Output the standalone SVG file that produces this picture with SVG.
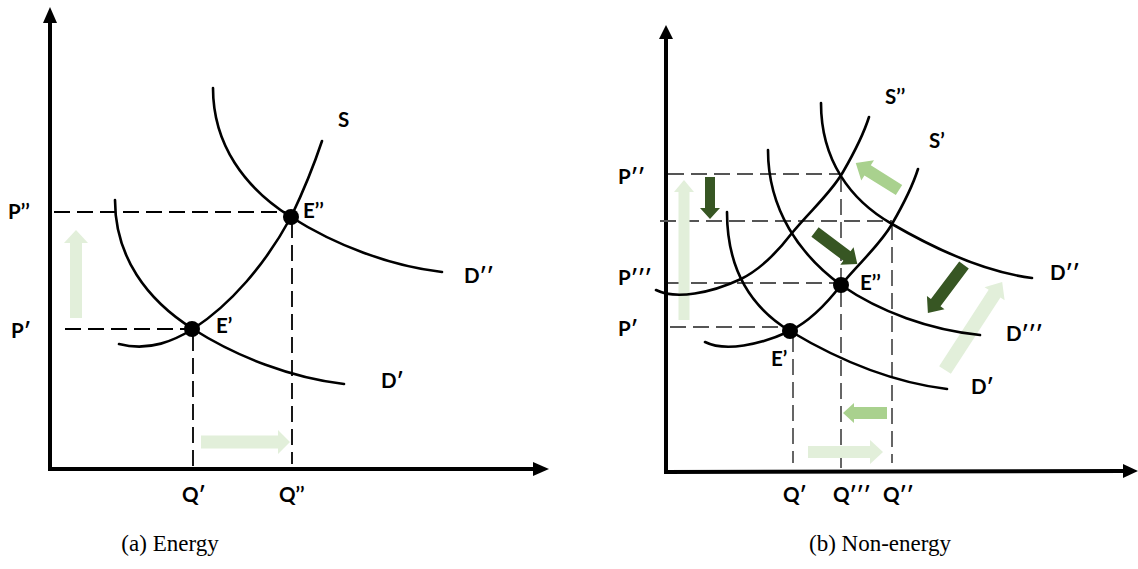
<svg xmlns="http://www.w3.org/2000/svg" width="1138" height="569" viewBox="0 0 1138 569">
<style>
.ax{stroke:#000;stroke-width:4;fill:none}
.cv{stroke:#000;stroke-width:2.6;fill:none;stroke-linecap:round}
.dl{stroke:#000;stroke-width:1.8;fill:none;stroke-dasharray:16 7}
.dr{stroke:#555;stroke-width:1.8;fill:none;stroke-dasharray:16 7}
.lb{font-family:Lato,"Open Sans","Liberation Sans",sans-serif;font-weight:bold;font-size:20.5px;fill:#000}
.cap{font-family:"Liberation Serif","DejaVu Serif",serif;font-size:23px;fill:#000}
.g1{fill:#e2efda}
.g2{fill:#a9d18e}
.g3{fill:#375623}
</style>
<rect width="1138" height="569" fill="#fff"/>

<!-- Panel (a) -->
<g id="a-axes">
<line class="ax" x1="50" y1="469" x2="50" y2="22"/>
<polygon points="43,23 50,7 57,23" fill="#000"/>
<line class="ax" x1="48" y1="469" x2="534" y2="469"/>
<polygon points="533,462 549,469 533,476" fill="#000"/>
</g>
<g id="a-connectors">
<line class="dl" x1="54" y1="212" x2="285" y2="212"/>
<line class="dl" x1="65" y1="329" x2="188" y2="329"/>
<line class="dl" x1="193" y1="335" x2="193" y2="466"/>
<line class="dl" x1="292" y1="222" x2="292" y2="464"/>
<polygon class="g1" points="0,-6 75,-6 75,-12 88,0 75,12 75,6 0,6" transform="translate(76,318) rotate(-90)"/>
<polygon class="g1" points="0,-6.5 77,-6.5 77,-12 89,0 77,12 77,6.5 0,6.5" transform="translate(201,442)"/>
</g>
<g id="a-D2"><path class="cv" d="M213,88 C213,145 245,188 291,217 C335,245 390,266 442,272"/></g>
<g id="a-D1"><path class="cv" d="M213,88 C213,145 245,188 291,217 C335,245 390,266 442,272" transform="translate(-98,112)"/></g>
<g id="a-S"><path class="cv" d="M119,344 C150,352 175,340 193,329 C230,305 265,265 291,217 C303,192 313,168 322,141"/></g>
<g id="a-E1"><circle cx="192" cy="329" r="8"/></g>
<g id="a-E2"><circle cx="291" cy="217" r="8"/></g>
<g id="a-labels">
<text class="lb" x="338" y="127">S</text>
<text class="lb" x="303" y="218">E’’</text>
<text class="lb" x="216" y="333">E’</text>
<text class="lb" x="464" y="283">D′′</text>
<text class="lb" x="381" y="388">D′</text>
<text class="lb" x="8" y="219">P’’</text>
<text class="lb" x="11" y="338">P′</text>
<text class="lb" x="182" y="502">Q′</text>
<text class="lb" x="279" y="502">Q’’</text>
</g>

<!-- Panel (b) -->
<g id="b-axes">
<line class="ax" x1="666" y1="473" x2="666" y2="38"/>
<polygon points="659,39 666,25 673,39" fill="#000"/>
<line class="ax" x1="664" y1="472" x2="1124" y2="471"/>
<polygon points="1123,464 1138,471 1123,478" fill="#000"/>
</g>
<g id="b-connectors">
<line class="dr" x1="668" y1="174" x2="840" y2="174"/>
<line class="dr" x1="660" y1="221" x2="892" y2="221"/>
<line class="dr" x1="668" y1="283" x2="838" y2="283"/>
<line class="dr" x1="670" y1="327" x2="786" y2="327"/>
<line class="dr" x1="841" y1="176" x2="841" y2="470"/>
<line class="dr" x1="892" y1="224" x2="892" y2="463"/>
<line class="dr" x1="793" y1="336" x2="793" y2="463"/>
<polygon class="g1" points="0,-5.5 128,-5.5 128,-10 140,0 128,10 128,5.5 0,5.5" transform="translate(684,320) rotate(-90)"/>
<polygon class="g3" points="0,-5 31,-5 31,-10 42,0 31,10 31,5 0,5" transform="translate(710,177) rotate(90)"/>
<polygon class="g2" points="0,-6 37,-6 37,-12 51,0 37,12 37,6 0,6" transform="translate(899,190) rotate(212)"/>
<polygon class="g3" points="0,-6 40,-6 40,-11 53,0 40,11 40,6 0,6" transform="translate(815,232) rotate(37)"/>
<polygon class="g3" points="0,-6 47,-6 47,-11 60,0 47,11 47,6 0,6" transform="translate(964,265) rotate(127)"/>
<polygon class="g1" points="0,-7 91,-7 91,-12 105,0 91,12 91,7 0,7" transform="translate(945,370) rotate(-57)"/>
<polygon class="g2" points="0,-6 33,-6 33,-10 44,0 33,10 33,6 0,6" transform="translate(887,413) rotate(180)"/>
<polygon class="g1" points="0,-6 62,-6 62,-12 75,0 62,12 62,6 0,6" transform="translate(808,452)"/>
</g>
<g id="b-S1"><path class="cv" d="M705,342 C725,352 760,345 790,331 C810,321 828,302 841,285 C860,262 880,245 892,224 C903,205 912,188 918,169"/></g>
<g id="b-S2"><path class="cv" d="M705,342 C725,352 760,345 790,331 C810,321 828,302 841,285 C860,262 880,245 892,224 C903,205 912,188 918,169" transform="translate(-49,-52)"/></g>
<g id="b-D2"><path class="cv" d="M821,103 C821,160 850,200 892,224 C935,249 985,272 1032,278"/></g>
<g id="b-D3"><path class="cv" d="M768,150 C768,210 800,255 841,285 C880,312 930,330 980,335"/></g>
<g id="b-D1"><path class="cv" d="M727,212 C727,270 752,308 790,331 C835,358 890,382 947,389"/></g>
<g id="b-E1"><circle cx="790" cy="331" r="8"/></g>
<g id="b-E2"><circle cx="841" cy="285" r="8"/></g>
<g id="b-labels">
<text class="lb" x="885" y="104">S’’</text>
<text class="lb" x="929" y="148">S’</text>
<text class="lb" x="860" y="290">E’’</text>
<text class="lb" x="771" y="366">E’</text>
<text class="lb" x="1050" y="280">D′′</text>
<text class="lb" x="1006" y="341">D′′′</text>
<text class="lb" x="971" y="394">D′</text>
<text class="lb" x="618" y="184">P′′</text>
<text class="lb" x="618" y="285">P′′′</text>
<text class="lb" x="618" y="336">P′</text>
<text class="lb" x="783" y="502">Q′</text>
<text class="lb" x="833" y="502">Q′′′</text>
<text class="lb" x="883" y="502">Q′′</text>
</g>

<g id="captions">
<text class="cap" x="170" y="551" text-anchor="middle">(a) Energy</text>
<text class="cap" x="880" y="551" text-anchor="middle">(b) Non-energy</text>
</g>
</svg>
